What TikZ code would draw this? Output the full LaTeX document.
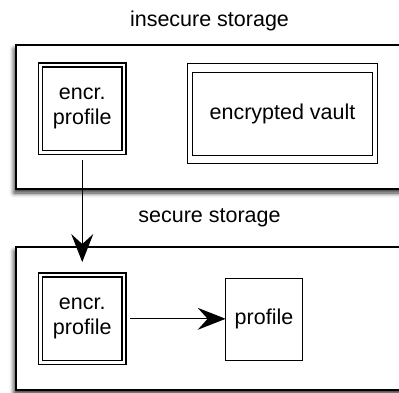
\documentclass[tikz,border=0pt]{standalone}
\usepackage{fontspec}
\setmainfont{Liberation Sans}
\usetikzlibrary{arrows.meta,shadows.blur}
\begin{document}
\begin{tikzpicture}[x=1pt,y=-1pt,
  every node/.style={font=\fontsize{21.5}{25}\selectfont, inner sep=0pt, outer sep=0pt, align=center},
  storage/.style={draw, line width=1.5pt, fill=white,
    blur shadow={shadow xshift=-2pt, shadow yshift=-4pt, shadow blur radius=4.5pt, shadow opacity=80},
    minimum width=404pt},
  encbox/.style={draw, line width=1.2pt, double, double distance=2.8pt,
    minimum width=83.5pt, minimum height=87.5pt},
  plainbox/.style={draw, line width=1.2pt},
  flow/.style={line width=1.2pt, -{Stealth[length=28pt,width=22pt,inset=10pt]}}
]
\useasboundingbox (0,0) rectangle (399,392);
\clip (0,0) rectangle (399,392);

% storage areas
\node[storage, minimum height=144pt] (insecure) at (218,117) {};
\node[storage, minimum height=143pt] (secure) at (218,318.5) {};
\node (insecurelabel) at (209.5,21) {insecure storage};
\node (securelabel) at (209.5,218) {secure storage};

% contents of the insecure storage
\node[encbox] (encrA) at (82.25,108.75) {encr.\\profile};
\node[plainbox, minimum width=190.6pt, minimum height=100.3pt] (vaultframe) at (282.5,113.7) {};
\node[plainbox, minimum width=179.7pt, minimum height=82.7pt] (vault) at (282.5,113.8) {encrypted vault};

% contents of the secure storage
\node[encbox] (encrB) at (82.25,318.8) {encr.\\profile};
\node[plainbox, minimum width=76.7pt, minimum height=82pt] (profile) at (264,319.2) {profile};

% data flow
\draw[flow, shorten <=7.5pt, shorten >=13pt] (encrA.south) -- (encrB.north);
\draw[flow, shorten <=6pt] (encrB.east) -- (encrB.east -| profile.west);
\end{tikzpicture}
\end{document}
